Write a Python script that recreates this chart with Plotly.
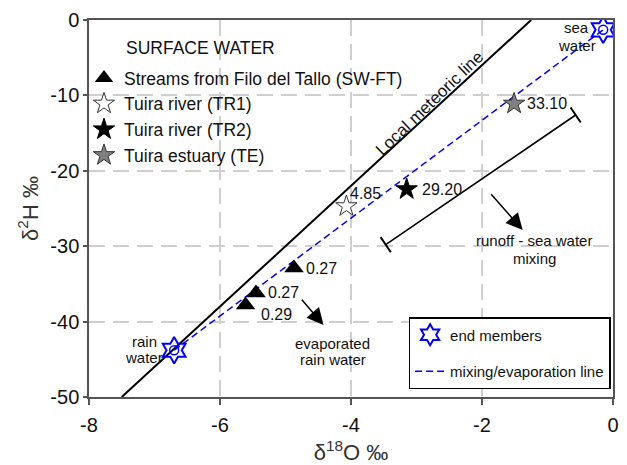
import plotly.graph_objects as go

# ---- data ----
end_x = [-6.7, -0.15]          # rain water, sea water
end_y = [-43.8, -1.3]
end_lines = [["rain", "water"], ["sea", "water"]]

sw_ft_x = [-4.87, -5.45, -5.61]
sw_ft_y = [-32.9, -36.2, -37.8]
sw_ft_lab = ["0.27", "0.27", "0.29"]

tr1_x, tr1_y, tr1_lab = [-4.07], [-24.7], ["4.85"]
tr2_x, tr2_y, tr2_lab = [-3.15], [-22.45], ["29.20"]
te_x, te_y, te_lab = [-1.51], [-11.1], ["33.10"]

lmwl_x = [-7.5, -1.25]
lmwl_y = [-50.0, 0.0]

runoff_x = [-3.47, -0.57]
runoff_y = [-29.8, -12.6]

x_ticks = [-8, -6, -4, -2, 0]
y_ticks = [-50, -40, -30, -20, -10, 0]

BLUE = "#0000ff"
FONT = "Arial, Liberation Sans, sans-serif"

fig = go.Figure()

# local meteoric line
fig.add_trace(go.Scatter(x=lmwl_x, y=lmwl_y, mode="lines",
                         line=dict(color="black", width=2), showlegend=False, hoverinfo="skip"))
# runoff - sea water mixing segment with caps
fig.add_trace(go.Scatter(x=runoff_x, y=runoff_y, mode="lines+markers",
                         line=dict(color="black", width=1.6),
                         marker=dict(symbol="line-ns", size=13, angle=-34,
                                     line=dict(color="black", width=2)),
                         showlegend=False, hoverinfo="skip"))
# mixing / evaporation line
fig.add_trace(go.Scatter(x=end_x, y=end_y, mode="lines", name="mixing/evaporation line",
                         line=dict(color=BLUE, width=1.5, dash="7px,4px"),
                         legend="legend2", legendrank=2, legendgroup="mix"))
# end members
fig.add_trace(go.Scatter(x=end_x, y=end_y, mode="markers", name="end members",
                         marker=dict(symbol="hexagram-open", size=20, color=BLUE,
                                     line=dict(color=BLUE, width=2)),
                         legend="legend2", legendrank=1, legendgroup="end"))
fig.add_trace(go.Scatter(x=end_x, y=end_y, mode="markers", showlegend=False,
                         marker=dict(symbol="circle-open", size=9, color=BLUE,
                                     line=dict(color=BLUE, width=1.5)), hoverinfo="skip"))

# surface water samples
fig.add_trace(go.Scatter(x=sw_ft_x, y=sw_ft_y, mode="markers", name="Streams from Filo del Tallo (SW-FT)",
                         marker=dict(symbol="triangle-up", size=17, color="black")))
fig.add_trace(go.Scatter(x=tr1_x, y=tr1_y, mode="markers", name="Tuira river (TR1)",
                         marker=dict(symbol="star", size=16, color="white",
                                     line=dict(color="#333", width=1))))
fig.add_trace(go.Scatter(x=tr2_x, y=tr2_y, mode="markers", name="Tuira river (TR2)",
                         marker=dict(symbol="star", size=16, color="black",
                                     line=dict(color="black", width=1))))
fig.add_trace(go.Scatter(x=te_x, y=te_y, mode="markers", name="Tuira estuary (TE)",
                         marker=dict(symbol="star", size=16, color="#808080",
                                     line=dict(color="#333", width=1))))

ann = []
lab_font = dict(family=FONT, size=16, color="#111")
txt15 = dict(family=FONT, size=15, color="#111")
# point labels
offs = [(0.15, 0.0), (0.15, 0.0), (0.2, -1.3)]
for x, y, t, (dx, dy) in zip(sw_ft_x, sw_ft_y, sw_ft_lab, offs):
    ann.append(dict(x=x + dx, y=y + dy, text=t, showarrow=False, xanchor="left", font=lab_font))
ann.append(dict(x=tr1_x[0] + 0.02, y=tr1_y[0] + 1.7, text=tr1_lab[0], showarrow=False,
                xanchor="left", font=lab_font))
ann.append(dict(x=tr2_x[0] + 0.2, y=tr2_y[0] + 0.0, text=tr2_lab[0], showarrow=False,
                xanchor="left", font=lab_font))
ann.append(dict(x=te_x[0] + 0.17, y=te_y[0] + 0.0, text=te_lab[0], showarrow=False,
                xanchor="left", font=lab_font))


def two_lines(cx, cy_top, lines, gap=2.1):
    for i, t in enumerate(lines):
        ann.append(dict(x=cx, y=cy_top - i * gap, text=t, showarrow=False, font=txt15))


# end member labels
two_lines(end_x[0] - 0.46, end_y[0] + 1.1, end_lines[0], gap=2.0)
two_lines(end_x[1] - 0.40, end_y[1] + 0.3, end_lines[1], gap=2.4)
# meteoric line label
ann.append(dict(x=-2.80, y=-11.1, text="Local meteoric line", showarrow=False, textangle=-44,
                font=dict(family=FONT, size=17, color="#111")))
# arrows
ann.append(dict(x=-4.42, y=-40.45, ax=-4.77, ay=-36.9, axref="x", ayref="y", xref="x", yref="y",
                text="", showarrow=True, arrowhead=2, arrowsize=2.2, arrowwidth=1.5, arrowcolor="black"))
ann.append(dict(x=-1.38, y=-27.85, ax=-1.88, ay=-22.9, axref="x", ayref="y", xref="x", yref="y",
                text="", showarrow=True, arrowhead=2, arrowsize=2.2, arrowwidth=1.5, arrowcolor="black"))
two_lines(-4.28, -42.9, ["evaporated", "rain water"])
two_lines(-1.20, -29.3, ["runoff - sea water", "mixing"], gap=2.3)
# legend heading
ann.append(dict(xref="paper", yref="paper", x=(124 - 89) / 523, y=(397 - 48) / 377,
                text="SURFACE WATER", showarrow=False, xanchor="left", yanchor="middle",
                font=dict(family=FONT, size=17.5, color="#111")))

axis_common = dict(showline=True, linecolor="#555", linewidth=1.5, mirror=True,
                   ticks="outside", tickcolor="#555", tickwidth=1.5, automargin=False,
                   showgrid=True, gridcolor="#cfcfcf", gridwidth=1.5, griddash="16px,8px",
                   zeroline=False, tickfont=dict(family=FONT, size=20, color="#111"))

fig.update_layout(
    width=627, height=465,
    margin=dict(l=89, r=14, t=20, b=68, autoexpand=False),
    paper_bgcolor="white", plot_bgcolor="white",
    font=dict(family=FONT, color="#111"),
    xaxis=dict(range=[-8, 0], tickvals=x_ticks, ticktext=[str(v) for v in x_ticks],
               ticklen=6, ticklabelstandoff=3,
               title=dict(text="δ<sup>18</sup>O ‰", font=dict(family=FONT, size=22, color="#333"),
                          standoff=20), **axis_common),
    yaxis=dict(range=[-50, 0], tickvals=y_ticks, ticktext=[str(v) for v in y_ticks],
               ticklen=4,
               title=dict(text="δ<sup>2</sup>H ‰", font=dict(family=FONT, size=22, color="#333"),
                          standoff=6), **axis_common),
    legend=dict(x=-5 / 523, y=(397 - 60) / 377, xanchor="left", yanchor="top",
                bgcolor="rgba(255,255,255,0)", borderwidth=0, tracegroupgap=0,
                font=dict(family=FONT, size=17.5, color="#111")),
    legend2=dict(x=(408 - 89) / 523, y=(397 - 317) / 377, xanchor="left", yanchor="top",
                 bgcolor="white", bordercolor="black", borderwidth=1.5, tracegroupgap=14,
                 traceorder="grouped",
                 font=dict(family=FONT, size=15, color="#111")),
    annotations=ann,
)

fig.write_html("out.html")
